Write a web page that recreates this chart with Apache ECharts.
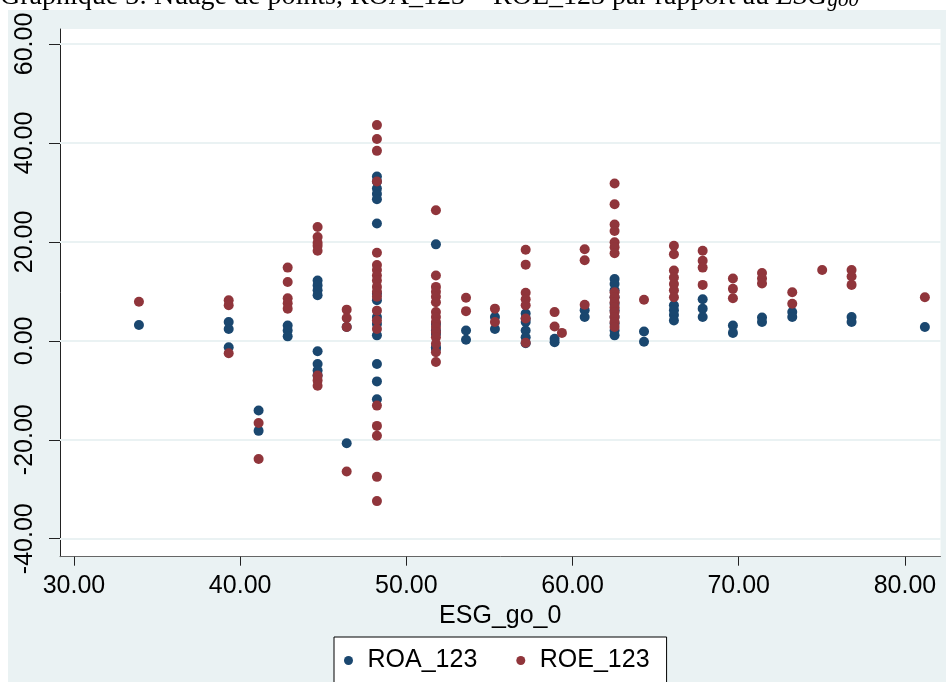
<!DOCTYPE html>
<html>
<head>
<meta charset="utf-8">
<script src="https://cdn.jsdelivr.net/npm/echarts@6/dist/echarts.min.js"></script>
<style>
html,body{margin:0;padding:0;background:#fff;}
#wrap{position:relative;width:946px;height:682px;overflow:hidden;background:#fff;}
#bg{position:absolute;left:8px;top:10px;right:0;bottom:0;background:#EAF2F3;}
#chart{position:absolute;left:0;top:0;width:946px;height:682px;}
</style>
</head>
<body>
<div id="wrap"><div id="bg"></div><div id="chart"></div></div>
<script>
// ESG_go_0 values (x positions of the point columns)
const esg = [33.91, 39.31, 41.11, 42.86, 44.66, 46.41, 48.23, 51.78, 53.59, 55.33, 57.18, 58.92,
             59.36, 60.73, 62.53, 64.30, 66.10, 67.83, 69.65, 71.40, 73.22, 75.02, 76.79, 81.20];
// ROA_123 values per ESG column
const roa = [
  [3.2],
  [3.8, 2.4, -1.3],
  [-14.1, -18.2],
  [3.1, 2.1, 0.9],
  [12.2, 11.2, 10.2, 9.2, -2.1, -4.7, -6.0, -7.0],
  [2.8, -20.7],
  [33.2, 32.2, 30.8, 29.7, 28.6, 23.7, 9.5, 8.2, 4.8, 3.4, 1.1, -4.7, -8.2, -11.8],
  [19.5, 3.4, 2.1, 1.4, -1.3, -1.6],
  [2.1, 0.2],
  [4.8, 2.4],
  [5.5, 4.5, 3.8, 2.1, 0.7, -0.5],
  [0.4, -0.3],
  [],
  [6.2, 4.8],
  [12.5, 11.5, 10.2, 8.8, 7.5, 6.2, 4.8, 3.5, 2.1, 1.1],
  [1.9, -0.2],
  [7.2, 6.2, 5.2, 4.1],
  [8.4, 6.5, 4.8],
  [3.1, 1.6],
  [4.7, 3.8],
  [5.8, 4.8],
  [],
  [4.8, 3.8],
  [2.8]
];
// ROE_123 values per ESG column
const roe = [
  [7.9],
  [8.2, 7.2, -2.5],
  [-16.6, -23.9],
  [14.8, 11.9, 8.6, 7.6, 6.5],
  [23.0, 21.0, 19.8, 19.2, 18.2, -7.0, -8.0, -9.1],
  [6.3, 4.6, 2.8, -26.4],
  [43.6, 40.8, 38.4, 32.2, 17.8, 15.3, 14.3, 13.2, 12.2, 10.9, 9.9, 8.9, 6.1, 4.1, 2.4, -13.1, -17.2, -19.2, -27.5, -32.4],
  [26.4, 13.2, 10.9, 9.9, 8.9, 7.8, 5.8, 4.8, 3.8, 2.8, 1.8, 0.7, -0.6, -2.3, -4.3],
  [8.7, 6.0],
  [6.5, 3.8],
  [18.4, 15.4, 9.7, 8.4, 7.2, 4.5, -0.4],
  [5.8, 2.9],
  [1.6],
  [18.5, 16.3, 7.3],
  [31.8, 27.6, 23.5, 22.2, 19.9, 18.9, 17.7, 9.8, 8.8, 7.8, 6.8, 5.8, 4.8, 3.8, 2.8],
  [8.3],
  [19.2, 17.5, 14.2, 12.8, 11.5, 10.2, 8.8],
  [18.2, 16.2, 14.8, 11.3],
  [12.6, 10.5, 8.6],
  [13.7, 12.6, 11.6],
  [9.8, 7.5],
  [14.3],
  [14.3, 13.0, 11.3],
  [8.8]
];
const xTicks = [30, 40, 50, 60, 70, 80];
const yTicks = [-40, -20, 0, 20, 40, 60];
const seriesNames = ['ROA_123', 'ROE_123'];
const titleText = 'Graphique 3: Nuage de points, ROA_123 – ROE_123 par rapport au ';

function pairs(cols) {
  const out = [];
  cols.forEach((vals, i) => vals.forEach(v => out.push([esg[i], v])));
  return out;
}

const chart = echarts.init(document.getElementById('chart'), null, {renderer: 'canvas'});
const font = 'Liberation Sans, Arial, sans-serif';
chart.setOption({
  backgroundColor: 'transparent',
  animation: false,
  title: {
    text: titleText + '{i|ESG}{s|go0}',
    left: 0, top: -17, padding: 0,
    textStyle: {
      fontFamily: 'Liberation Serif, Times New Roman, serif', fontSize: 28, fontWeight: 'normal', color: '#000',
      rich: {
        i: {fontFamily: 'Liberation Serif, serif', fontSize: 28, fontStyle: 'italic', color: '#000'},
        s: {fontFamily: 'Liberation Serif, serif', fontSize: 21, fontStyle: 'italic', color: '#000', verticalAlign: 'bottom'}
      }
    }
  },
  grid: {left: 60, right: 5.5, top: 29, bottom: 125.3, show: true, backgroundColor: '#fff', borderWidth: 0},
  legend: {
    data: seriesNames,
    left: 334, top: 637,
    orient: 'horizontal',
    backgroundColor: '#fff', borderColor: '#000', borderWidth: 1,
    padding: [11, 17, 22, 10],
    itemGap: 39,
    itemWidth: 28, itemHeight: 9,
    icon: 'circle',
    textStyle: {fontFamily: font, fontSize: 25, color: '#000'}
  },
  xAxis: {
    type: 'value', min: 29.16, max: 82.14,
    name: 'ESG_go_0', nameLocation: 'middle', nameGap: 37,
    nameTextStyle: {fontFamily: font, fontSize: 25, color: '#000'},
    axisLine: {show: true, onZero: false, lineStyle: {color: '#666', width: 1}},
    axisTick: {show: true, length: 9, customValues: xTicks, lineStyle: {color: '#222'}},
    axisLabel: {customValues: xTicks, margin: 17, fontFamily: font, fontSize: 25, color: '#000',
      formatter: v => v.toFixed(2)},
    splitLine: {show: false}
  },
  yAxis: {
    type: 'value', min: -43.64, max: 63.03,
    axisLine: {show: true, onZero: false, lineStyle: {color: '#222', width: 1}},
    axisTick: {show: true, length: 11, customValues: yTicks, lineStyle: {color: '#222'}},
    axisLabel: {customValues: yTicks, rotate: 90, margin: 22, fontFamily: font, fontSize: 25, color: '#000',
      formatter: v => v.toFixed(2)},
    splitLine: {show: false}
  },
  series: [
    {
      type: 'scatter', name: '_grid', data: [], z: 1, silent: true,
      markLine: {
        z: 1, silent: true, symbol: 'none', animation: false,
        label: {show: false},
        lineStyle: {color: '#EAF2F3', width: 2, type: 'solid'},
        data: yTicks.map(v => ({yAxis: v}))
      }
    },
    {
      type: 'scatter', name: seriesNames[0], data: pairs(roa), z: 3,
      symbol: 'circle', symbolSize: 10,
      itemStyle: {color: '#1A476F', opacity: 1}
    },
    {
      type: 'scatter', name: seriesNames[1], data: pairs(roe), z: 4,
      symbol: 'circle', symbolSize: 10,
      itemStyle: {color: '#90353B', opacity: 1}
    }
  ]
});
</script>
</body>
</html>
